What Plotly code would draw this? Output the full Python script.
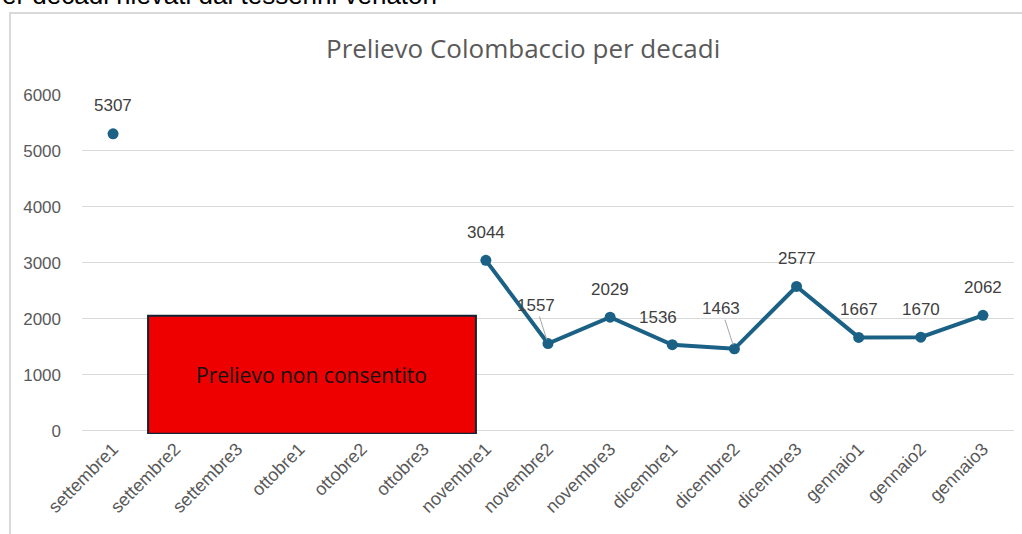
import plotly.graph_objects as go

# Prelievo per decade (None = prelievo non consentito)
categories = ["settembre1", "settembre2", "settembre3", "ottobre1", "ottobre2", "ottobre3",
              "novembre1", "novembre2", "novembre3", "dicembre1", "dicembre2", "dicembre3",
              "gennaio1", "gennaio2", "gennaio3"]
prelievo = [5307, None, None, None, None, None,
            3044, 1557, 2029, 1536, 1463, 2577, 1667, 1670, 2062]
y_ticks = [0, 1000, 2000, 3000, 4000, 5000, 6000]

LINE = "#1a6185"
GRAY = "#595959"
LABEL = "#404040"
FONT = "Open Sans"
TICK_FONT = "Liberation Sans"

fig = go.Figure()
fig.add_trace(go.Scatter(
    x=categories, y=prelievo, mode="lines+markers",
    line=dict(color=LINE, width=4),
    marker=dict(color=LINE, size=11),
    connectgaps=False, hoverinfo="x+y", showlegend=False,
))

# data labels: (dx, dy, leader line)
label_offsets = {
    "novembre2": (-12, -38, True),
    "dicembre1": (-14, -27, False),
    "dicembre2": (-13, -40, True),
}
annotations = []
for cat, val in zip(categories, prelievo):
    if val is None:
        continue
    dx, dy, leader = label_offsets.get(cat, (0, -28, False))
    if leader:
        annotations.append(dict(
            x=cat, y=val, xref="x", yref="y", text=str(val),
            showarrow=True, ax=dx, ay=dy, arrowhead=0, arrowwidth=1,
            arrowcolor="#a6a6a6", standoff=4,
            font=dict(family=TICK_FONT, size=17, color=LABEL)))
    else:
        annotations.append(dict(
            x=cat, y=val, xref="x", yref="y", text=str(val),
            showarrow=False, xshift=dx, yshift=-dy,
            font=dict(family=TICK_FONT, size=17, color=LABEL)))

annotations.append(dict(
    x=3.2, y=1000, xref="x", yref="y", text="Prelievo non consentito",
    showarrow=False, font=dict(family=FONT, size=21, color="#111111")))

annotations.append(dict(
    x=0.473, y=1.1385, xref="paper", yref="paper", xanchor="center", yanchor="middle",
    text="Prelievo Colombaccio per decadi", showarrow=False,
    font=dict(family=FONT, size=26, color=GRAY)))

# heading line above the chart frame
annotations.append(dict(
    x=-0.088, y=1.245, xref="paper", yref="paper", xanchor="left", yanchor="bottom",
    text="er decadi rilevati dai tesserini venatori", showarrow=False,
    font=dict(family="Liberation Sans", size=26, color="#000000")))

shapes = [
    # chart frame
    dict(type="rect", xref="paper", yref="paper",
         x0=-0.0773, x1=1.05, y0=-0.6, y1=1.2416,
         line=dict(color="#d9d9d9", width=2), fillcolor="rgba(0,0,0,0)", layer="below"),
    # closed-season box
    dict(type="rect", xref="x", yref="y", x0=0.563, x1=5.84, y0=-54, y1=2054,
         line=dict(color="#0f2536", width=2), fillcolor="#ee0000", layer="above"),
]

fig.update_layout(
    width=1022, height=534,
    margin=dict(l=82, r=8, t=95, b=100),
    paper_bgcolor="white", plot_bgcolor="white",
    font=dict(family=FONT, color=GRAY),
    shapes=shapes, annotations=annotations,
    xaxis=dict(type="category", range=[-0.5, 14.5], tickangle=-45,
               tickfont=dict(family=TICK_FONT, size=18, color=GRAY),
               showgrid=False, showline=False, ticks=""),
    yaxis=dict(range=[-60, 6000], tickvals=y_ticks,
               tickfont=dict(family=TICK_FONT, size=17, color=GRAY),
               showgrid=True, gridcolor="#d9d9d9", gridwidth=1, zeroline=False,
               showline=False, ticklabelstandoff=20),
)

fig.write_html("out.html")
